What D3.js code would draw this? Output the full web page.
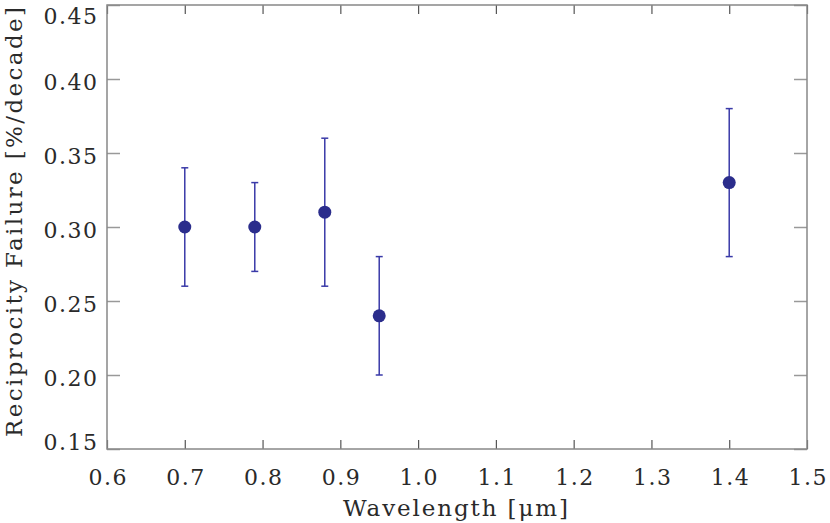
<!DOCTYPE html>
<html><head><meta charset="utf-8">
<script src="https://cdn.jsdelivr.net/npm/d3@7"></script>
<style>body{margin:0;background:#fff}svg{display:block}text{font-family:"DejaVu Serif",serif;fill:#2a2a2a}</style>
</head><body><svg id="c" width="830" height="523"></svg>
<script>
const wavelength = [0.70, 0.79, 0.88, 0.95, 1.40];
const failure    = [0.30, 0.30, 0.31, 0.24, 0.33];
const errLow     = [0.26, 0.27, 0.26, 0.20, 0.28];
const errHigh    = [0.34, 0.33, 0.36, 0.28, 0.38];
const xTicks = [0.6,0.7,0.8,0.9,1.0,1.1,1.2,1.3,1.4,1.5];
const yTicks = [0.15,0.20,0.25,0.30,0.35,0.40,0.45];
const xTitle = "Wavelength [μm]";
const yTitle = "Reciprocity Failure [%/decade]";

const svg = d3.select("#c");
const L=107, R=807, T=5, B=449;
const x = d3.scaleLinear().domain([0.6,1.5]).range([L,R]);
const y = d3.scaleLinear().domain([0.15,0.45]).range([B,T]);
const LS = 1.5;
const FONT = "DejaVu Serif, serif";

const xb = svg.append("g").attr("transform",`translate(0,${B})`)
  .call(d3.axisBottom(x).tickValues(xTicks).tickFormat(d3.format(".1f")).tickSizeInner(-9).tickSizeOuter(0));
const xt = svg.append("g").attr("transform",`translate(0,${T})`)
  .call(d3.axisTop(x).tickValues(xTicks).tickFormat("").tickSizeInner(-9).tickSizeOuter(0));
const yl = svg.append("g").attr("transform",`translate(${L},0)`)
  .call(d3.axisLeft(y).tickValues(yTicks).tickFormat(d3.format(".2f")).tickSizeInner(-13).tickSizeOuter(0).tickPadding(10-LS));
const yr = svg.append("g").attr("transform",`translate(${R},0)`)
  .call(d3.axisRight(y).tickValues(yTicks).tickFormat("").tickSizeInner(-13).tickSizeOuter(0));
[xb,xt].forEach(g=>{g.select(".domain").remove();g.selectAll(".tick line").attr("stroke","#555").attr("stroke-width",1.2);});
[yl,yr].forEach(g=>{g.select(".domain").remove();g.selectAll(".tick line").attr("stroke","#999").attr("stroke-width",1.5);});
svg.selectAll(".tick text").attr("font-family",FONT).attr("font-size",22)
  .attr("fill","#2a2a2a").attr("letter-spacing",LS);
xb.selectAll(".tick text").attr("y",36).attr("dy",0).attr("dx",LS/2);
yl.selectAll(".tick text").attr("dy",d=> d===0.45 ? "18px" : (d===0.15 ? "0px" : "10px"));

svg.append("rect").attr("x",L).attr("y",T).attr("width",R-L).attr("height",B-T)
  .attr("fill","none").attr("stroke","#888").attr("stroke-width",1.5);

const data = wavelength.map((w,i)=>({w, v:failure[i], lo:errLow[i], hi:errHigh[i]}));
const eb = svg.append("g").attr("stroke","#3a3aa8").attr("stroke-width",1.5).attr("fill","none");
data.forEach(d=>{
  eb.append("line").attr("x1",x(d.w)).attr("x2",x(d.w)).attr("y1",y(d.lo)).attr("y2",y(d.hi));
  eb.append("line").attr("x1",x(d.w)-3.5).attr("x2",x(d.w)+3.5).attr("y1",y(d.lo)).attr("y2",y(d.lo));
  eb.append("line").attr("x1",x(d.w)-3.5).attr("x2",x(d.w)+3.5).attr("y1",y(d.hi)).attr("y2",y(d.hi));
});
svg.append("g").selectAll("circle").data(data).join("circle")
  .attr("cx",d=>x(d.w)).attr("cy",d=>y(d.v)).attr("r",6.5).attr("fill","#2b2d8c");

svg.append("text").attr("x",343).attr("y",516).attr("font-family",FONT).attr("font-size",23)
  .attr("textLength",225).attr("lengthAdjust","spacing").text(xTitle);
svg.append("text").attr("transform",`translate(22,437) rotate(-90)`).attr("font-family",FONT)
  .attr("font-size",23).attr("textLength",430).attr("lengthAdjust","spacing").text(yTitle);
</script></body></html>
